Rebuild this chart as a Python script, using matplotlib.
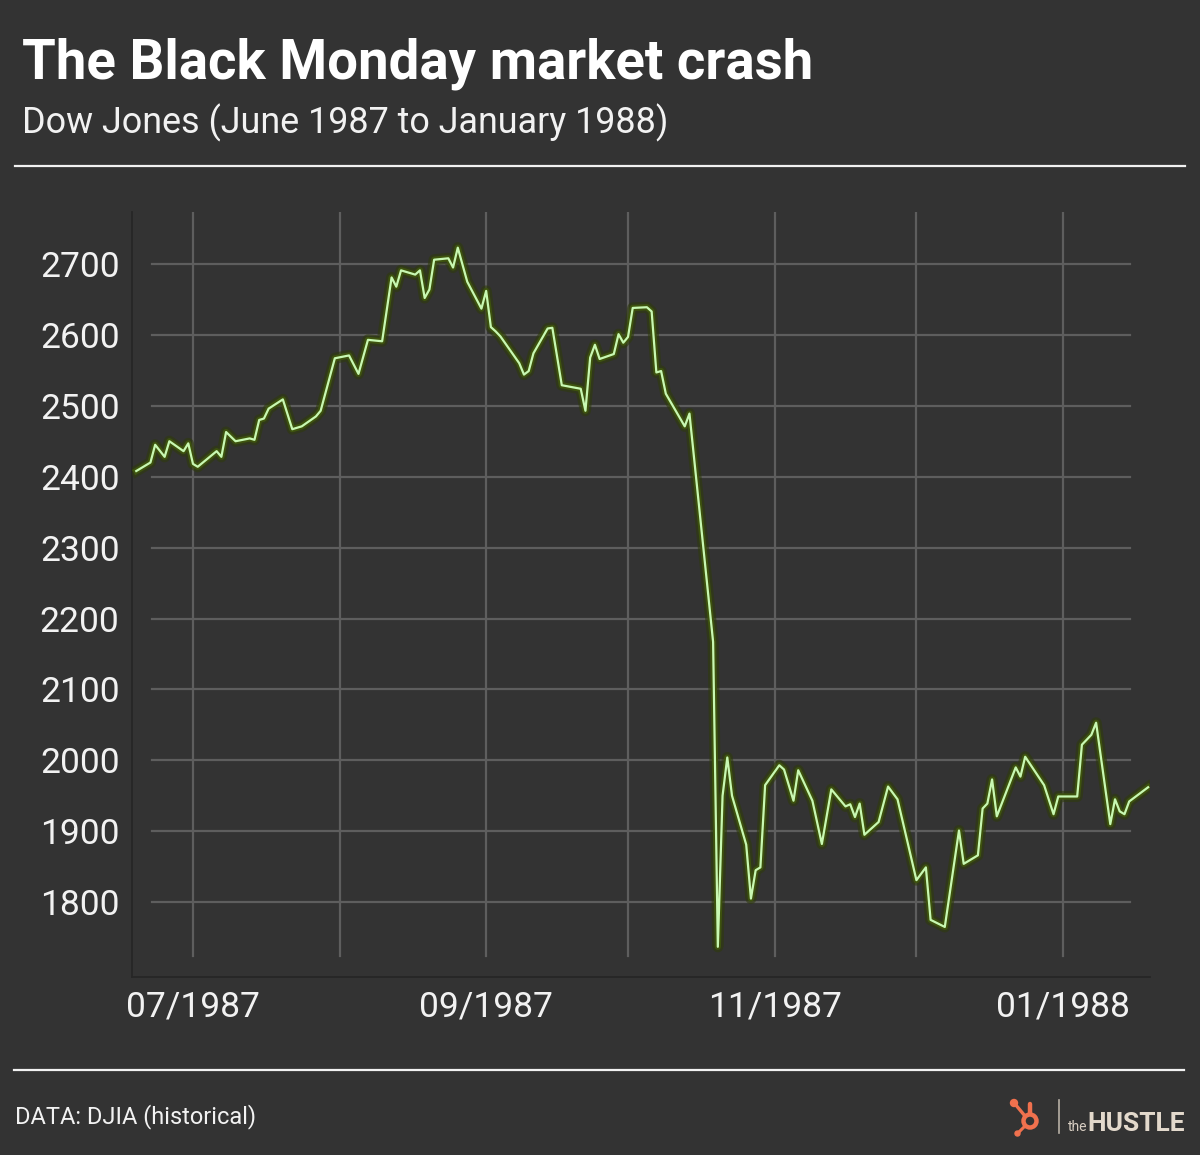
import matplotlib
matplotlib.use("Agg")
import matplotlib.pyplot as plt
import matplotlib.dates as mdates
import matplotlib.patheffects as pe
from matplotlib.patches import Circle
import pandas as pd

# DJIA closes
dates = (
    ["1987-06-%02d" % d for d in [19, 22, 23, 25, 26, 29, 30]]
    + ["1987-07-%02d" % d for d in [1, 2, 6, 7, 8, 10, 13, 14, 15, 16, 17, 20, 22, 24, 27, 28, 31]]
    + ["1987-08-%02d" % d for d in [3, 5, 7, 10, 12, 13, 14, 17, 18, 19, 20, 21, 24, 25, 26, 28, 31]]
    + ["1987-09-%02d" % d for d in [1, 2, 3, 4, 8, 9, 10, 11, 14, 15, 17, 21, 22, 23, 24, 25, 28, 29, 30]]
    + ["1987-10-%02d" % d for d in [1, 2, 5, 6, 7, 8, 9, 13, 14, 19, 20, 21, 22, 23, 26, 27, 28, 29, 30]]
    + ["1987-11-%02d" % d for d in [2, 3, 5, 6, 9, 11, 13, 16, 17, 18, 19, 20, 23, 25, 27]]
    + ["1987-12-%02d" % d for d in [1, 3, 4, 7, 10, 11, 14, 15, 16, 17, 18, 22, 23, 24, 28, 30, 31]]
    + ["1988-01-%02d" % d for d in [4, 5, 7, 8, 11, 12, 13, 14, 15, 19]]
)
djia = [
    2408, 2420, 2445, 2428, 2450, 2436, 2447,
    2418, 2414, 2436, 2428, 2463, 2450, 2454, 2452, 2480, 2482, 2496, 2509, 2467, 2471, 2485, 2493, 2567,
    2571, 2545, 2593, 2591, 2681, 2668, 2691, 2685, 2691, 2652, 2664, 2706, 2708, 2695, 2723, 2675, 2637,
    2662, 2611, 2605, 2598, 2560, 2544, 2549, 2574, 2609, 2610, 2529, 2524, 2493, 2568, 2586, 2566, 2573, 2601, 2589,
    2597, 2638, 2639, 2633, 2547, 2549, 2517, 2471, 2489, 2167, 1737, 1950, 2004, 1950, 1881, 1805, 1845, 1849, 1965,
    1993, 1987, 1943, 1986, 1943, 1882, 1959, 1935, 1938, 1920, 1939, 1895, 1913, 1963, 1945,
    1831, 1849, 1775, 1765, 1901, 1854, 1866, 1932, 1939, 1973, 1921, 1990, 1977, 2005, 1965, 1924, 1949,
    1949, 2022, 2036, 2053, 1910, 1945, 1928, 1924, 1942, 1962,
]
yticks = [1800, 1900, 2000, 2100, 2200, 2300, 2400, 2500, 2600, 2700]
month_lines = ["1987-07-01", "1987-08-01", "1987-09-01", "1987-10-01",
               "1987-11-01", "1987-12-01", "1988-01-01"]
month_labels = ["1987-07-01", "1987-09-01", "1987-11-01", "1988-01-01"]

title = "The Black Monday market crash"
subtitle = "Dow Jones (June 1987 to January 1988)"
source = "DATA: DJIA (historical)"

BG = "#333333"
GRID = "#5e5e5e"
LINE = "#c8f8b2"

plt.rcParams["font.family"] = ["Roboto", "DejaVu Sans"]

x = pd.to_datetime(dates)

fig = plt.figure(figsize=(12, 11.55), dpi=100, facecolor=BG)
ax = fig.add_axes([132 / 1200, 178 / 1155, 1018 / 1200, 765 / 1155])
ax.set_facecolor(BG)

ax.set_xlim(pd.Timestamp("1987-07-01") - pd.Timedelta(days=12.9),
            pd.Timestamp("1987-07-01") + pd.Timedelta(days=202.4))
ax.set_ylim(1694.4, 2773.3)

for m in pd.to_datetime(month_lines):
    ax.axvline(m, ymin=0.0275, ymax=1, color=GRID, lw=1.6, zorder=1)
for v in yticks:
    ax.axhline(v, xmin=0.0196, xmax=0.98, color=GRID, lw=1.6, zorder=1)

ax.plot(x, djia, color=LINE, lw=1.6, zorder=3, solid_joinstyle="round",
        path_effects=[pe.Stroke(linewidth=8, foreground="#2e3a0c", alpha=0.6, joinstyle="round"),
                      pe.Stroke(linewidth=4.5, foreground="#3d520e", joinstyle="round"),
                      pe.Normal()])

ax.set_yticks(yticks)
ax.set_yticklabels([str(v) for v in yticks])
ax.set_xticks(pd.to_datetime(month_labels))
ax.xaxis.set_major_formatter(mdates.DateFormatter("%m/%Y"))
ax.tick_params(axis="both", length=0, labelsize=25.5, colors="#f2f2f2")
ax.tick_params(axis="y", pad=9)
ax.tick_params(axis="x", pad=10)

for s in ["top", "right"]:
    ax.spines[s].set_visible(False)
for s in ["left", "bottom"]:
    ax.spines[s].set_color("#262626")
    ax.spines[s].set_linewidth(1.3)

# header / footer
fig.text(22 / 1200, 1 - 78 / 1155, title, fontweight="bold",
         fontsize=39.3, color="white", va="baseline", ha="left")
fig.text(22 / 1200, 1 - 133 / 1155, subtitle, fontsize=25.8, color="#f2f2f2",
         va="baseline", ha="left")
fig.text(15 / 1200, 1 - 1123 / 1155, source, fontsize=17,
         color="#f2f2f2", va="baseline", ha="left")

deco = fig.add_axes([0, 0, 1, 1])
deco.set_xlim(0, 1200)
deco.set_ylim(1155, 0)
deco.axis("off")
deco.patch.set_alpha(0)
deco.plot([15, 1185], [166, 166], color="#f2f2f2", lw=1.6)
deco.plot([14, 1184], [1070, 1070], color="#f2f2f2", lw=1.6)

# logo
ORANGE = "#f0714e"
deco.add_patch(Circle((1030, 1121), 6.5, fill=False, ec=ORANGE, lw=3.2))
deco.plot([1030, 1030], [1114, 1104], color=ORANGE, lw=3.2, solid_capstyle="round")
deco.plot([1025, 1015], [1116, 1104], color=ORANGE, lw=2.4)
deco.add_patch(Circle((1014, 1103), 3.5, color=ORANGE))
deco.plot([1025, 1018], [1126, 1133], color=ORANGE, lw=2.2)
deco.add_patch(Circle((1017.5, 1133.5), 2.5, color=ORANGE))
deco.plot([1059, 1059], [1100, 1133], color="#b8b0a6", lw=1.2)
deco.text(1068, 1131, "the", fontsize=10, color="#d8cec2", va="baseline")
deco.text(1087, 1131, "HUSTLE", fontweight="bold", fontsize=19,
          color="#e3d9cc", va="baseline")

fig.savefig("out.png", dpi=100, facecolor=BG)
